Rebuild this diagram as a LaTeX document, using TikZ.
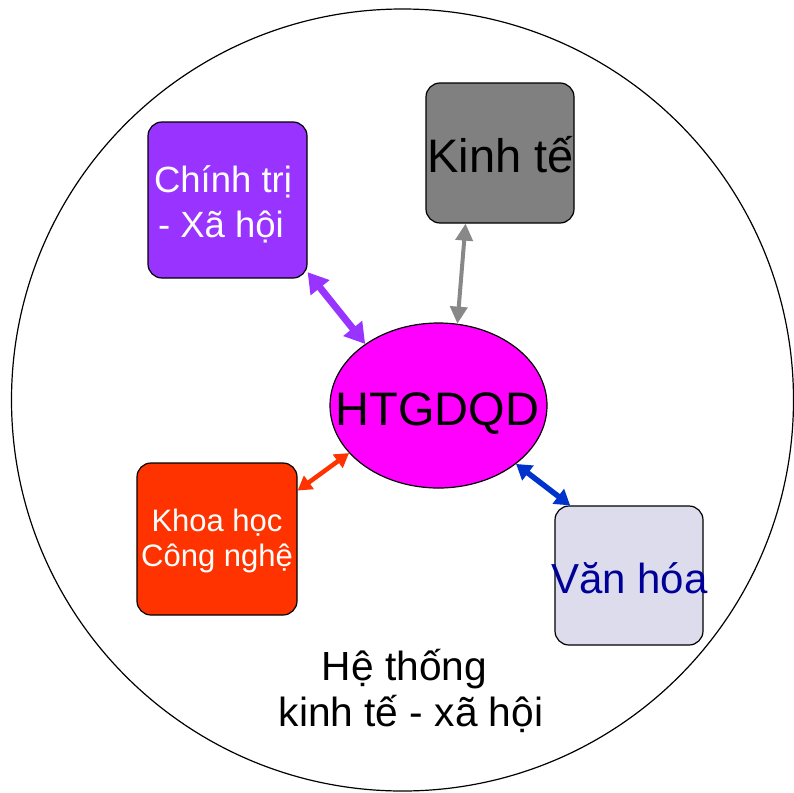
\documentclass[tikz,border=0pt]{standalone}
\usepackage{fontspec}
\setmainfont{Liberation Sans}
\usetikzlibrary{arrows.meta,shapes.geometric}
\definecolor{purp}{HTML}{9933FF}
\definecolor{grayb}{HTML}{808080}
\definecolor{graya}{HTML}{888888}
\definecolor{magen}{HTML}{FF00FF}
\definecolor{redo}{HTML}{FF3300}
\definecolor{lav}{HTML}{DCDCED}
\definecolor{bluea}{HTML}{0033CC}
\definecolor{navy}{HTML}{000099}
\tikzset{
  box/.style={draw=black, line width=1.2pt, rounded corners=14pt, inner sep=0pt},
  lbl/.style={anchor=base, inner sep=0pt},
}
\begin{document}
\begin{tikzpicture}[x=1pt,y=-1pt]
\useasboundingbox (0,0) rectangle (794,792);
\fill[white] (0,0) rectangle (794,792);
\node[draw=black, line width=1.2pt, circle, minimum size=782pt, inner sep=0pt] (outer) at (402.5,400) {};
% boxes
\node[box, fill=purp, minimum width=159pt, minimum height=156pt] (chinh) at (227.5,200) {};
\node[box, fill=grayb, minimum width=148pt, minimum height=140pt] (kinh) at (500,153) {};
\node[box, fill=redo, minimum width=160pt, minimum height=152pt] (khoa) at (217,539) {};
\node[box, fill=lav, minimum width=148pt, minimum height=139pt] (van) at (629,575.5) {};
\node[draw=black, line width=1.2pt, ellipse, fill=magen, minimum width=217pt, minimum height=165pt, inner sep=0pt] (htg) at (438.5,405.5) {};
% labels
\node[lbl, font=\fontsize{36.5}{44}\selectfont, white] (chinhA) at (223,192) {Chính trị};
\node[lbl, font=\fontsize{36.5}{44}\selectfont, white] (chinhB) at (221,237) {- Xã hội};
\node[lbl, font=\fontsize{47}{56}\selectfont, black] (kinhA) at (500.5,172) {Kinh tế};
\node[lbl, font=\fontsize{31}{37}\selectfont, white] (khoaA) at (217,531.7) {Khoa học};
\node[lbl, font=\fontsize{31}{37}\selectfont, white] (khoaB) at (217,566.7) {Công nghệ};
\node[lbl, font=\fontsize{42}{50}\selectfont, navy] (vanA) at (629.5,593) {Văn hóa};
\node[lbl, font=\fontsize{47}{56}\selectfont, black] (htgA) at (437.5,425) {HTGDQD};
\node[lbl, font=\fontsize{40.7}{48}\selectfont, black] (heA) at (404.5,680) {Hệ thống};
\node[lbl, font=\fontsize{40.7}{48}\selectfont, black] (heB) at (411,726.7) {kinh tế - xã hội};
% connectors
\draw[purp, line width=7pt, {Triangle[length=20pt,width=23pt]}-{Triangle[length=20pt,width=23pt]}] (chinh.-42) -- (htg.140);
\draw[graya, line width=4pt, {Triangle[length=17pt,width=17pt]}-{Triangle[length=17pt,width=17pt]}] (kinh.-116) -- (htg.77);
\draw[redo, line width=4.5pt, {Triangle[length=14pt,width=16pt]}-{Triangle[length=14pt,width=16pt]}] (khoa.31) -- (htg.-152);
\draw[bluea, line width=5.5pt, {Triangle[length=15pt,width=18pt]}-{Triangle[length=15pt,width=18pt]}] (htg.-37.6) -- (van.130.3);
\end{tikzpicture}
\end{document}
